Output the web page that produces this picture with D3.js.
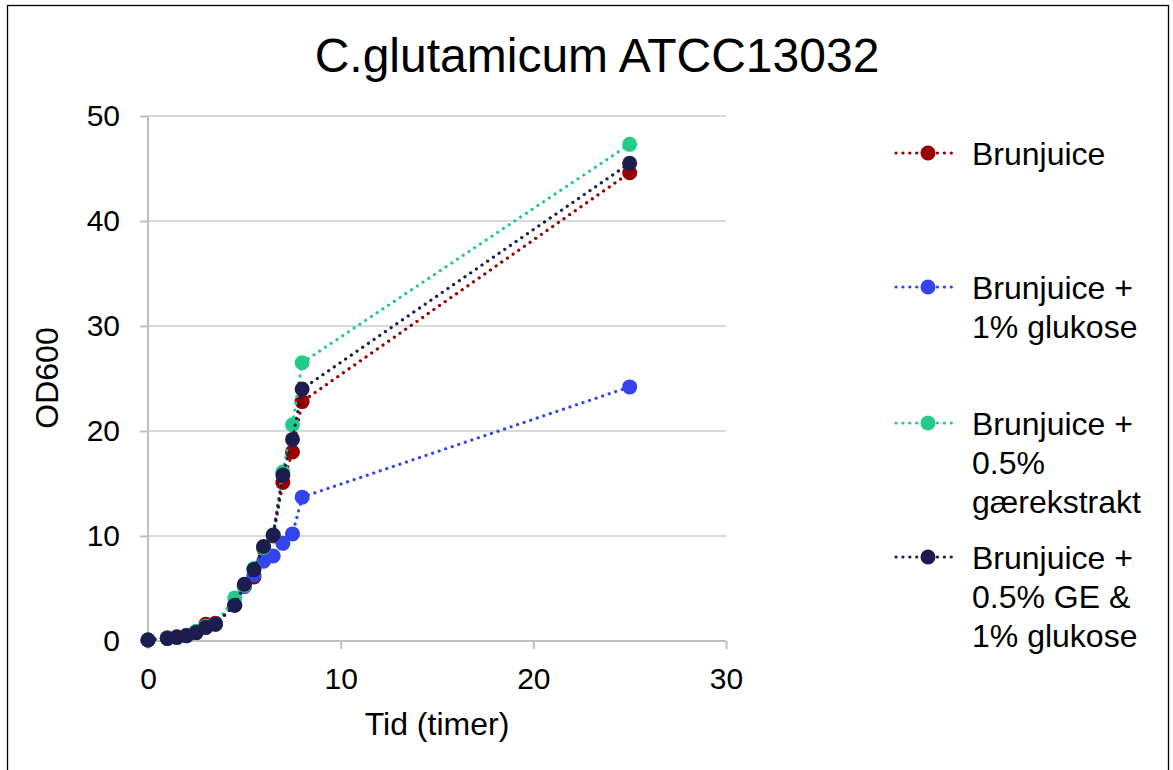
<!DOCTYPE html>
<html>
<head>
<meta charset="utf-8">
<script src="https://cdn.jsdelivr.net/npm/d3@7"></script>
<style>
  body { margin: 0; background: #fff; }
  text { font-family: "Liberation Sans", Arial, sans-serif; fill: #000; }
</style>
</head>
<body>
<div id="chart"></div>
<script>
/**
 * Data
 */
const hours = [0, 1, 1.5, 2, 2.5, 3, 3.5, 4.5, 5, 5.5, 6, 6.5, 7, 7.5, 8, 25];
const seriesNames = ["Brunjuice", "Brunjuice + 1% glukose", "Brunjuice + 0.5% gærekstrakt", "Brunjuice + 0.5% GE & 1% glukose"];
const legendLines = [["Brunjuice"], ["Brunjuice +", "1% glukose"], ["Brunjuice +", "0.5%", "gærekstrakt"], ["Brunjuice +", "0.5% GE &", "1% glukose"]];
const brunjuice = [0.1, 0.3, 0.4, 0.55, 0.9, 1.6, 1.7, 3.4, 5.2, 6.1, 8.8, 10.0, 15.1, 18.0, 22.8, 44.6];
const glukose = [0.1, 0.25, 0.35, 0.5, 0.8, 1.3, 1.6, 3.5, 5.2, 6.3, 7.6, 8.1, 9.3, 10.2, 13.7, 24.2];
const gaerekstrakt = [0.1, 0.25, 0.35, 0.5, 0.9, 1.4, 1.6, 4.1, 5.3, 6.9, 8.9, 10.1, 16.1, 20.6, 26.5, 47.3];
const geGlukose = [0.1, 0.25, 0.35, 0.5, 0.8, 1.3, 1.6, 3.4, 5.4, 6.8, 9.0, 10.1, 15.8, 19.2, 24.0, 45.5];
const seriesValues = [brunjuice, glukose, gaerekstrakt, geGlukose];
const colors = ["#990000", "#3344ee", "#22cc88", "#1c1c4e"];
const xTicks = [0, 10, 20, 30];
const yTicks = [0, 10, 20, 30, 40, 50];

/**
 * Basic Settings
 */
const width = 1173;
const height = 770;

const svg = d3.select("#chart")
  .append("svg")
  .attr("width", width)
  .attr("height", height);

// outer frame
svg.append("rect")
  .attr("x", 7.5)
  .attr("y", 5.5)
  .attr("width", 1161)
  .attr("height", 780)
  .attr("fill", "none")
  .attr("stroke", "#000")
  .attr("stroke-width", 1.3);

/**
 * Scale
 */
const xScale = d3.scaleLinear().domain([0, 30]).range([148, 726]);
const yScale = d3.scaleLinear().domain([0, 50]).range([641, 116]);

// gridlines
svg.append("g")
  .selectAll("line")
  .data(yTicks.filter(d => d > 0))
  .enter()
  .append("line")
  .attr("x1", xScale(0))
  .attr("x2", xScale(30))
  .attr("y1", d => yScale(d))
  .attr("y2", d => yScale(d))
  .attr("stroke", "#d9d9d9")
  .attr("stroke-width", 2);

/**
 * Axis
 */
const xAxis = d3.axisBottom(xScale).tickValues(xTicks).tickSize(8).tickPadding(19);
const gx = svg.append("g")
  .attr("transform", "translate(0," + yScale(0) + ")")
  .call(xAxis);

const yAxis = d3.axisLeft(yScale).tickValues(yTicks).tickSize(8).tickPadding(20);
const gy = svg.append("g")
  .attr("transform", "translate(" + xScale(0) + ",0)")
  .call(yAxis);

[gx, gy].forEach(g => {
  g.select(".domain").attr("stroke", "#bfbfbf").attr("stroke-width", 2);
  g.selectAll(".tick line").attr("stroke", "#bfbfbf").attr("stroke-width", 2);
  g.selectAll(".tick text")
    .style("font-family", "'Liberation Sans', Arial, sans-serif")
    .style("font-size", "30px")
    .attr("fill", "#000");
});
gx.select(".domain").attr("d", "M" + xScale(0) + ",0H" + xScale(30));
gy.select(".domain").attr("d", "M0," + yScale(0) + "V" + yScale(50));

/**
 * Series
 */
const line = d3.line()
  .x((d, i) => xScale(hours[i]))
  .y(d => yScale(d));

seriesValues.forEach((values, s) => {
  const g = svg.append("g").attr("class", "series");
  g.append("path")
    .datum(values)
    .attr("d", line)
    .attr("fill", "none")
    .attr("stroke", colors[s])
    .attr("stroke-width", 3.2)
    .attr("stroke-linecap", "round")
    .attr("stroke-dasharray", "0.1 6.8");
  g.selectAll("circle")
    .data(values)
    .enter()
    .append("circle")
    .attr("cx", (d, i) => xScale(hours[i]))
    .attr("cy", d => yScale(d))
    .attr("r", 7.5)
    .attr("fill", colors[s]);
});

/**
 * Titles
 */
svg.append("text")
  .attr("x", 597)
  .attr("y", 72)
  .attr("text-anchor", "middle")
  .style("font-size", "48px")
  .text("C.glutamicum ATCC13032");

svg.append("text")
  .attr("x", 437)
  .attr("y", 735)
  .attr("text-anchor", "middle")
  .style("font-size", "32px")
  .text("Tid (timer)");

svg.append("text")
  .attr("transform", "translate(58,378) rotate(-90)")
  .attr("text-anchor", "middle")
  .style("font-size", "32px")
  .text("OD600");

/**
 * Legend
 */
const legendY = [153, 287, 423, 557];
const legend = svg.append("g")
  .selectAll("g")
  .data(seriesNames)
  .enter()
  .append("g")
  .attr("transform", (d, i) => "translate(896," + legendY[i] + ")");

legend.append("line")
  .attr("x1", 0)
  .attr("x2", 62)
  .attr("stroke", (d, i) => colors[i])
  .attr("stroke-width", 3.2)
  .attr("stroke-linecap", "round")
  .attr("stroke-dasharray", "0.1 6.8");

legend.append("circle")
  .attr("cx", 32)
  .attr("r", 7.5)
  .attr("fill", (d, i) => colors[i]);

legend.append("text")
  .attr("x", 76)
  .attr("y", 12)
  .style("font-size", "32px")
  .selectAll("tspan")
  .data((d, i) => legendLines[i])
  .enter()
  .append("tspan")
  .attr("x", 76)
  .attr("dy", (d, i) => i === 0 ? 0 : 39)
  .text(d => d);
</script>
</body>
</html>
